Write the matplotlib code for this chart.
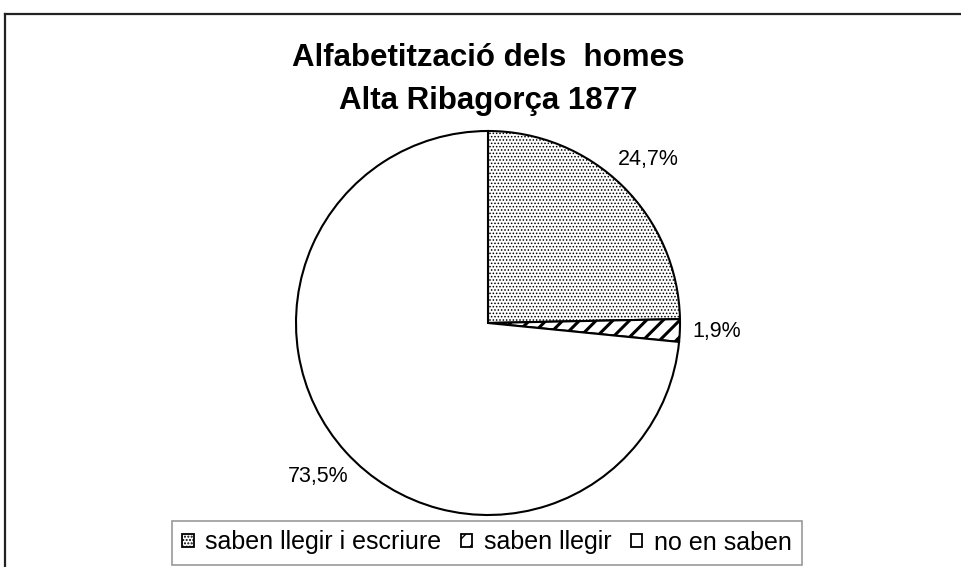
import matplotlib
matplotlib.use("Agg")
import matplotlib.pyplot as plt
from matplotlib.lines import Line2D

plt.rcParams['font.family'] = ['Liberation Sans', 'DejaVu Sans']

categories = ["saben llegir i escriure", "saben llegir", "no en saben"]
values = [24.7, 1.9, 73.5]
hatches = ['.....', '//', '']
title_lines = ["Alfabetització dels  homes", "Alta Ribagorça 1877"]

W, H = 962, 567
fig = plt.figure(figsize=(W / 100, H / 100), dpi=100)
fig.patch.set_facecolor('white')

# outer frame (left and top edges visible)
fig.add_artist(Line2D([4.5 / W, 4.5 / W], [0, 1 - 13.5 / H], transform=fig.transFigure,
                      color='#222222', lw=1.6))
fig.add_artist(Line2D([4.5 / W, 1], [1 - 13.5 / H, 1 - 13.5 / H], transform=fig.transFigure,
                      color='#222222', lw=1.6))

cx, cy, r = 488, 323, 192
ax = fig.add_axes([(cx - r) / W, (H - cy - r) / H, 2 * r / W, 2 * r / H])
labels = [f"{v:.1f}%".replace('.', ',') for v in values]
wedges, texts = ax.pie(values, startangle=90, counterclock=False,
                       colors=['white'] * 3, labels=labels, labeldistance=1.19,
                       wedgeprops=dict(edgecolor='black', linewidth=1.5),
                       textprops=dict(fontsize=15.5, color='black'))
for w, h in zip(wedges, hatches):
    w.set_hatch(h)
    if hasattr(w, 'set_hatch_linewidth'):
        w.set_hatch_linewidth(2.2 if '/' in h else 0.7)
for t in texts:
    t.set_ha('center')
    t.set_va('center')
ax.set_xlim(-1, 1)
ax.set_ylim(-1, 1)
ax.set_aspect('equal')
ax.axis('off')

fig.text(cx / W, 1 - 66 / H, title_lines[0], ha='center', va='baseline',
         fontsize=22.5, fontweight='bold')
fig.text(cx / W, 1 - 109 / H, title_lines[1], ha='center', va='baseline',
         fontsize=22.5, fontweight='bold')

leg = fig.legend(wedges, categories, loc='center', bbox_to_anchor=(487 / W, 1 - 542.5 / H),
                 ncol=3, fontsize=18, frameon=True, fancybox=False,
                 handlelength=0.45, handleheight=0.45, handletextpad=0.45,
                 columnspacing=0.8, borderpad=0.4, edgecolor='#808080')
leg.get_frame().set_linewidth(1.2)
for p in leg.get_patches():
    p.set_linewidth(1.3)

fig.savefig('out.png', dpi=100, facecolor='white')
